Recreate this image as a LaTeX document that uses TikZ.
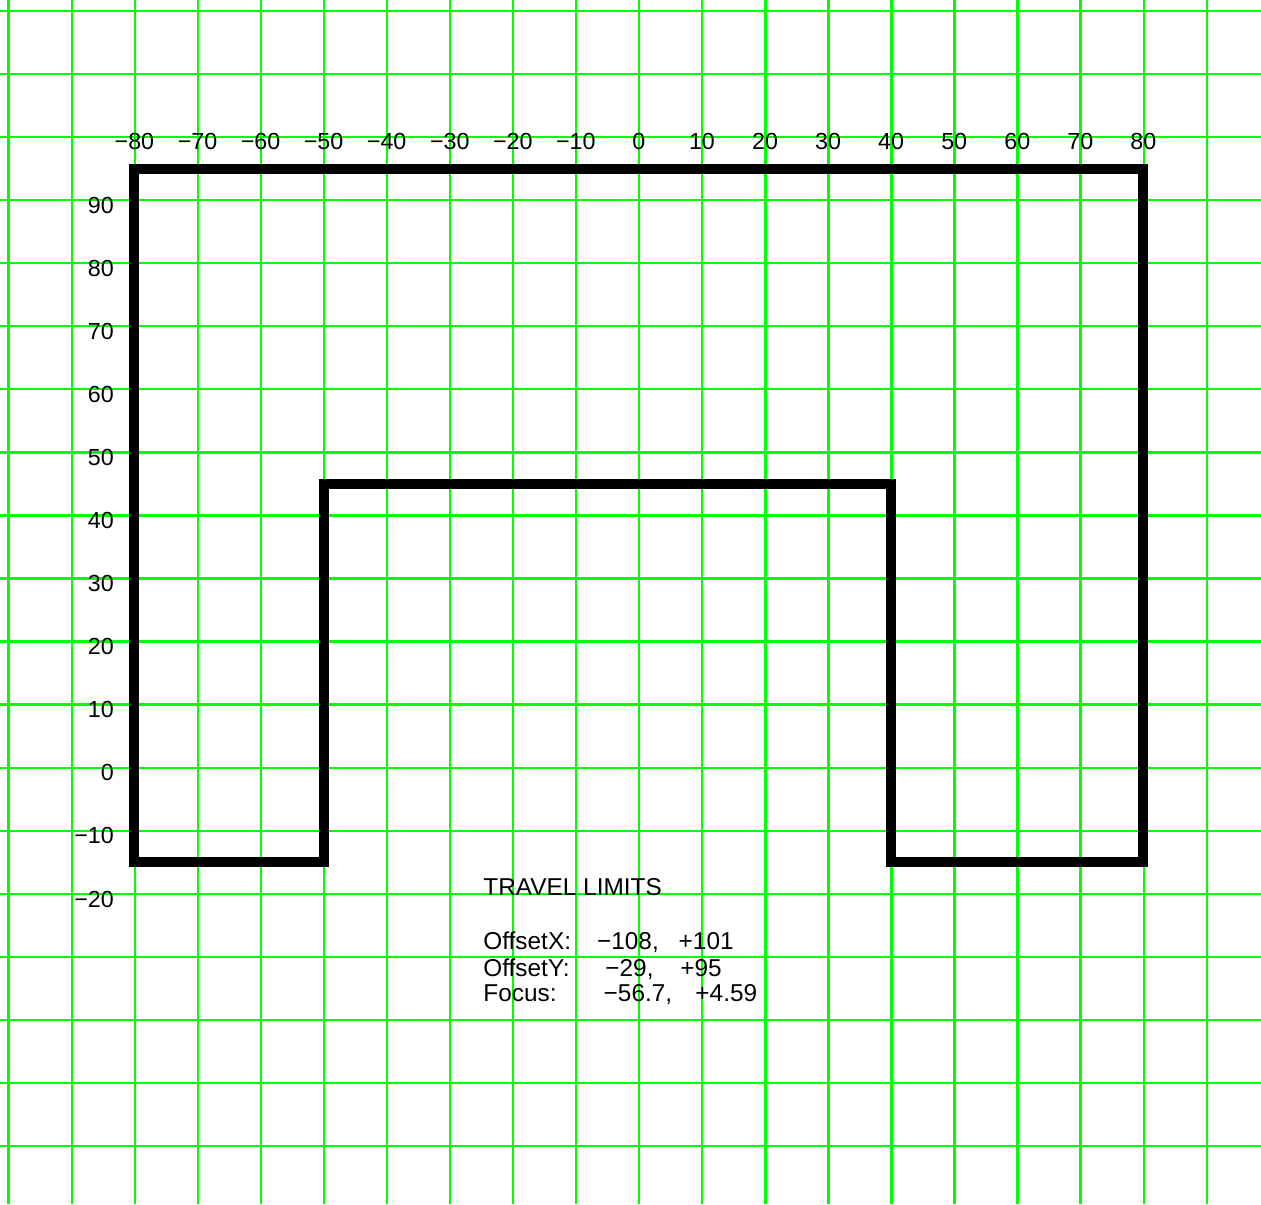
\documentclass[tikz,border=0pt]{standalone}
\usepackage{fontspec}
\setmainfont{Liberation Sans}
\usepackage{tikz}
\definecolor{gridGreen}{HTML}{00FF00}
\newcommand{\axlabel}[1]{\ifnum#1<0 −\number\numexpr-#1\relax\else#1\fi}

\begin{document}
\begin{tikzpicture}[
  x=1mm, y=1mm,
  font=\fontsize{10.5}{12}\selectfont,
  gridline/.style={draw=gridGreen, line width=1.05pt},
  limit/.style={draw=black, line width=4.5pt, line join=miter},
  tick/.style={inner sep=0pt, anchor=base},
  ytick/.style={inner sep=0pt, anchor=base east},
  info/.style={inner sep=0pt, anchor=base west, font=\fontsize{11}{13}\selectfont}
]
\fill[white] (-101.32,-69.19) rectangle (98.65,121.74);
\useasboundingbox (-101.32,-69.19) rectangle (98.65,121.74);

% Grid
\foreach \gx in {-100,-90,...,90}
  \draw[gridline] (\gx+0.05,-69.19) -- (\gx+0.05,121.74);
\foreach \gy in {-60,-50,...,120}
  \draw[gridline] (-101.32,\gy) -- (98.65,\gy);

% Travel outline
\draw[limit] (-80,95) -- (80,95) -- (80,-15) -- (40,-15) -- (40,45)
  -- (-50,45) -- (-50,-15) -- (-80,-15) -- cycle;

% Axis labels
\foreach \v in {-80,-70,...,80}
  \node[tick] (top\v) at (\v,98) {\axlabel{\v}};
\foreach \v in {90,80,...,-20}
  \node[ytick] (left\v) at (-83.2,\v-2.1) {\axlabel{\v}};

% Limits text
\node[info] (title) at (-24.73,-20.2) {TRAVEL LIMITS};
\node[info] (offx) at (-24.73,-28.8) {OffsetX:};
\node[info] (offxlo) at (-6.7,-28.8) {−108,};
\node[info] (offxhi) at (6.24,-28.8) {+101};
\node[info] (offy) at (-24.73,-33.1) {OffsetY:};
\node[info] (offylo) at (-5.38,-33.1) {−29,};
\node[info] (offyhi) at (6.5,-33.1) {+95};
\node[info] (focus) at (-24.73,-37.1) {Focus:};
\node[info] (foclo) at (-5.65,-37.1) {−56.7,};
\node[info] (fochi) at (8.9,-37.1) {+4.59};
\end{tikzpicture}
\end{document}
